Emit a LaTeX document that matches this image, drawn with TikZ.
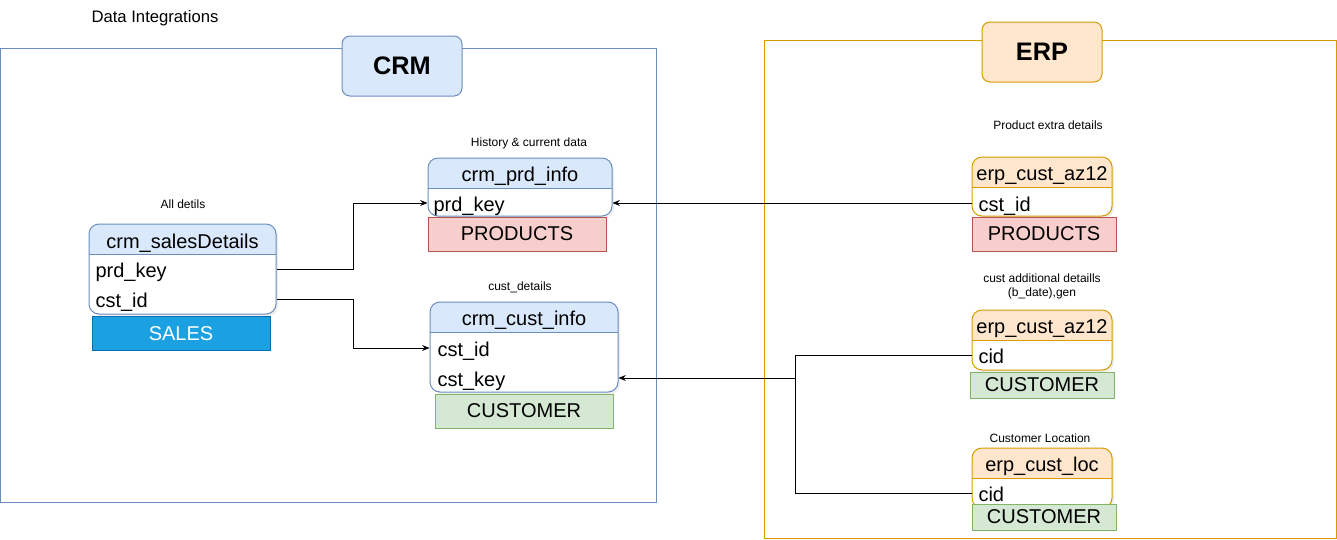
\documentclass[tikz,border=0pt]{standalone}
\usepackage{fontspec}
\setmainfont{Liberation Sans}
\usetikzlibrary{arrows.meta,shadows}
\definecolor{crmline}{HTML}{6C8EBF}
\definecolor{crmfill}{HTML}{DAE8FC}
\definecolor{erpline}{HTML}{D79B00}
\definecolor{erpfill}{HTML}{FFE6CC}
\definecolor{redline}{HTML}{B85450}
\definecolor{redfill}{HTML}{F8CECC}
\definecolor{greenline}{HTML}{82B366}
\definecolor{greenfill}{HTML}{D5E8D4}
\definecolor{salesline}{HTML}{006EAF}
\definecolor{salesfill}{HTML}{1BA1E2}
\tikzset{
  tab/.style 2 args={draw=#1, fill=white, rounded corners=7.5pt, inner sep=0pt,
    drop shadow={opacity=0.15, shadow xshift=1.5pt, shadow yshift=-1.5pt},
    path picture={
      \fill[#2, sharp corners] (path picture bounding box.north west) rectangle ([yshift=-22.5pt]path picture bounding box.north east);
      \draw[#1, sharp corners] ([yshift=-22.5pt]path picture bounding box.north west) -- ([yshift=-22.5pt]path picture bounding box.north east);
    }},
  rowtxt/.style={anchor=west, inner sep=0pt, text height=13pt, text depth=1pt},
  headtxt/.style={inner sep=0pt, text height=13pt, text depth=1pt},
  tag/.style={draw=#1line, fill=#1fill, minimum width=133.5pt, minimum height=25.5pt, inner sep=0pt},
  titlebox/.style={draw=#1line, fill=#1fill, rounded corners=6pt, minimum width=90pt, minimum height=45pt,
    font=\fontsize{19}{22}\selectfont\bfseries},
  note/.style={font=\fontsize{9}{10.5}\selectfont, inner sep=0pt},
  link/.style={-{Stealth[length=5.5pt, width=4.5pt]}}
}
\begin{document}
\begin{tikzpicture}[x=0.75pt, y=-0.75pt, line width=0.75pt,
  every node/.style={font=\fontsize{15}{18}\selectfont}]
\useasboundingbox (0,0) rectangle (1337,539);
\node[font=\fontsize{12.5}{15}\selectfont] (pagetitle) at (155,18) {Data Integrations};
% frames
\draw[crmline] (0,48) rectangle (656,502);
\draw[erpline] (764,40) rectangle (1336,538);
\node[titlebox=crm] (crm) at (402,66) {CRM};
\node[titlebox=erp] (erp) at (1042,52) {ERP};
% CRM tables
\node[note] (lblsales) at (183,204) {All detils};
\node[tab={crmline}{crmfill}, minimum width=140.25pt, minimum height=67.5pt] (sales) at (182.5,269) {};
\node[headtxt] (salesH) at (182.5,240) {crm\_salesDetails};
\node[rowtxt] (salesprd) at (95,269) {prd\_key};
\node[rowtxt] (salescst) at (95,299) {cst\_id};
\node[tag=sales, text=white] (salestag) at (181,333.5) {SALES};

\node[note] (lblprd) at (529,143) {History \& current data};
\node[tab={crmline}{crmfill}, minimum width=138pt, minimum height=43.5pt] (prdinfo) at (520,187) {};
\node[headtxt] (prdinfoH) at (520,173) {crm\_prd\_info};
\node[rowtxt] (prdkey) at (433,203) {prd\_key};
\node[tag=red] (prdtag) at (517,234) {PRODUCTS};

\node[note] (lblcust) at (520,287) {cust\_details};
\node[tab={crmline}{crmfill}, minimum width=141pt, minimum height=67.5pt] (custinfo) at (524,347) {};
\node[headtxt] (custinfoH) at (524,317) {crm\_cust\_info};
\node[rowtxt] (custid) at (437,348) {cst\_id};
\node[rowtxt] (custkey) at (437,378) {cst\_key};
\node[tag=green] (custtag) at (524,411) {CUSTOMER};
% ERP tables
\node[note] (lblerpprd) at (1048,125) {Product extra details};
\node[tab={erpline}{erpfill}, minimum width=105pt, minimum height=44.25pt] (erpprd) at (1042,186.5) {};
\node[headtxt] (erpprdH) at (1042,172) {erp\_cust\_az12};
\node[rowtxt] (ecstid) at (978,203) {cst\_id};
\node[tag=red, minimum width=108pt] (erpprdtag) at (1044,234) {PRODUCTS};

\node[note, align=center] (lblerpcust) at (1042,286) {cust additional detaills\\(b\_date),gen};
\node[tab={erpline}{erpfill}, minimum width=105pt, minimum height=45pt] (erpcust) at (1042,340) {};
\node[headtxt] (erpcustH) at (1042,325) {erp\_cust\_az12};
\node[rowtxt] (ecid) at (978,355) {cid};
\node[tag=green, minimum width=108pt, minimum height=19.5pt] (erpcusttag) at (1042,385) {CUSTOMER};

\node[note] (lblloc) at (1040,438) {Customer Location};
\node[tab={erpline}{erpfill}, minimum width=105pt, minimum height=45pt] (erploc) at (1042,478) {};
\node[headtxt] (erplocH) at (1042,463) {erp\_cust\_loc};
\node[rowtxt] (lcid) at (978,493) {cid};
\node[tag=green, minimum width=108pt, minimum height=19.5pt] (erploctag) at (1044,517) {CUSTOMER};
% links
\draw[link] (salesprd -| sales.east) -- ++(77,0) |- (prdkey -| prdinfo.west);
\draw[link] (salescst -| sales.east) -- ++(77,0) |- (custid -| custinfo.west);
\draw[link] (ecstid -| erpprd.west) -- (prdkey -| prdinfo.east);
\coordinate (join) at (795,355);
\draw[link] (ecid -| erpcust.west) -- (join) |- (custkey -| custinfo.east);
\draw (lcid -| erploc.west) -| (join);
\end{tikzpicture}
\end{document}
